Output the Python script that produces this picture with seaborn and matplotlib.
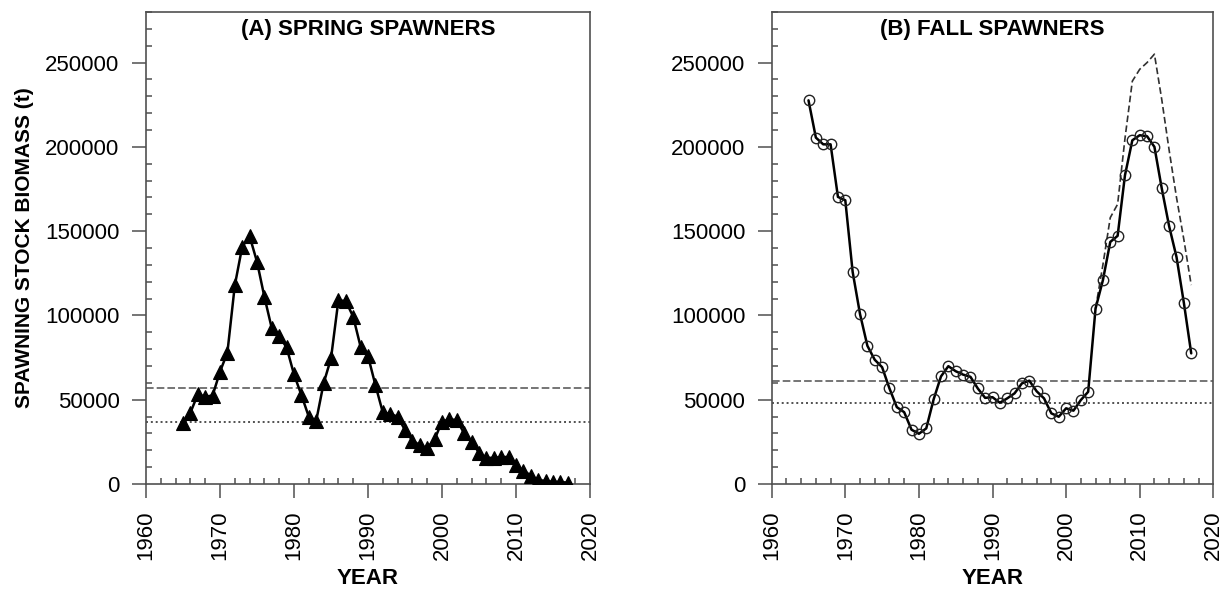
import matplotlib
matplotlib.use("Agg")
import matplotlib.pyplot as plt
import numpy as np
import pandas as pd
import seaborn as sns
from matplotlib.ticker import MultipleLocator

# ---------------- data ----------------
spring_years = list(range(1965, 2018))
spring_ssb = [36300, 42300, 53200, 51800, 52500, 66600, 78000, 117800, 140700, 147000,
              131800, 111000, 92300, 87700, 81000, 65000, 52800, 39900, 37500, 59700,
              74500, 109000, 108500, 99200, 81400, 75900, 58700, 42500, 41500, 40000,
              32000, 25800, 23000, 21300, 26500, 37000, 38300, 38000, 30000, 25000,
              18600, 15500, 15500, 16000, 16000, 11000, 8000, 5000, 2400, 1800,
              1300, 1200, 800]

fall_years = list(range(1965, 2018))
fall_ssb = [227600, 205500, 201500, 201500, 170300, 168300, 125800, 100800, 82000, 73700,
            69300, 56700, 45600, 42600, 32200, 29800, 33000, 50200, 63800, 69900,
            66900, 64900, 63600, 56700, 51100, 51500, 48200, 50800, 53800, 59700,
            61300, 55000, 50800, 41900, 39900, 44900, 43500, 49800, 54700, 104100,
            120900, 143600, 147200, 183200, 203900, 206900, 206300, 200000, 175300, 152900,
            134700, 107500, 77500]

retro_years = list(range(2004, 2018))
retro_ssb = [104100, 130000, 158000, 166000, 205000, 239000, 246000, 250000, 255000,
             228000, 198000, 170000, 145000, 118000]

spring_ref = {"upper": 57000, "lower": 37000}
fall_ref = {"upper": 61000, "lower": 48000}

titles = ["(A) SPRING SPAWNERS", "(B) FALL SPAWNERS"]
ylabel = "SPAWNING STOCK BIOMASS (t)"
xlabel = "YEAR"

# ---------------- style ----------------
sns.set_style("ticks")
plt.rcParams["font.family"] = ["Liberation Sans", "DejaVu Sans"]
plt.rcParams["text.color"] = "black"
plt.rcParams["axes.labelcolor"] = "black"
plt.rcParams["xtick.labelcolor"] = "black"
plt.rcParams["ytick.labelcolor"] = "black"
spine_col = "#505050"

fig = plt.figure(figsize=(12.31, 5.92), dpi=100)
ax1 = fig.add_axes([146 / 1231, 1 - 484 / 592, 444 / 1231, 472 / 592])
ax2 = fig.add_axes([771.7 / 1231, 1 - 484 / 592, 441.6 / 1231, 472 / 592])

spring_df = pd.DataFrame({"year": spring_years, "ssb": spring_ssb})
fall_df = pd.DataFrame({"year": fall_years, "ssb": fall_ssb})
retro_df = pd.DataFrame({"year": retro_years, "ssb": retro_ssb})

# reference lines
for ax, ref in ((ax1, spring_ref), (ax2, fall_ref)):
    ax.axhline(ref["upper"], color=spine_col, lw=1.1, linestyle=(0, (5, 2)), zorder=1)
    ax.axhline(ref["lower"], color=spine_col, lw=1.4, linestyle=(0, (1, 1.5)), zorder=1)

sns.lineplot(data=spring_df, x="year", y="ssb", ax=ax1, color="black", lw=1.8,
             marker="^", markersize=9.5, markerfacecolor="black",
             markeredgecolor="black", markeredgewidth=0.8, estimator=None, zorder=3)

sns.lineplot(data=retro_df, x="year", y="ssb", ax=ax2, color="#303030", lw=1.2,
             linestyle=(0, (4, 2)), estimator=None, zorder=2)
sns.lineplot(data=fall_df, x="year", y="ssb", ax=ax2, color="black", lw=1.8,
             marker="o", markersize=7.5, markerfacecolor="none",
             markeredgecolor="#222222", markeredgewidth=1.0, estimator=None, zorder=3)

for i, (ax, title) in enumerate(((ax1, titles[0]), (ax2, titles[1]))):
    ax.set_xlim(1960, 2020)
    ax.set_ylim(0, 280000)
    ax.xaxis.set_major_locator(MultipleLocator(10))
    ax.xaxis.set_minor_locator(MultipleLocator(2))
    ax.yaxis.set_major_locator(MultipleLocator(50000))
    ax.yaxis.set_minor_locator(MultipleLocator(10000))
    ax.tick_params(axis="both", which="major", direction="out", length=10, width=1.1,
                   color=spine_col, labelsize=16, pad=9, labelcolor="black")
    ax.tick_params(axis="both", which="minor", direction="in", length=4, width=1.1,
                   color=spine_col)
    ax.tick_params(axis="x", which="major", labelrotation=90)
    for s in ax.spines.values():
        s.set_visible(True)
        s.set_color(spine_col)
        s.set_linewidth(1.2)
    ax.set_xlabel(xlabel, fontsize=16, fontweight="bold", labelpad=6, color="black")
    ax.set_ylabel("")
    ax.text(0.5, 0.985, title, transform=ax.transAxes, ha="center", va="top",
            fontsize=16, fontweight="bold", color="black")

ax1.set_ylabel(ylabel, fontsize=15, fontweight="bold", labelpad=8, color="black")

fig.savefig("out.png", dpi=100)
